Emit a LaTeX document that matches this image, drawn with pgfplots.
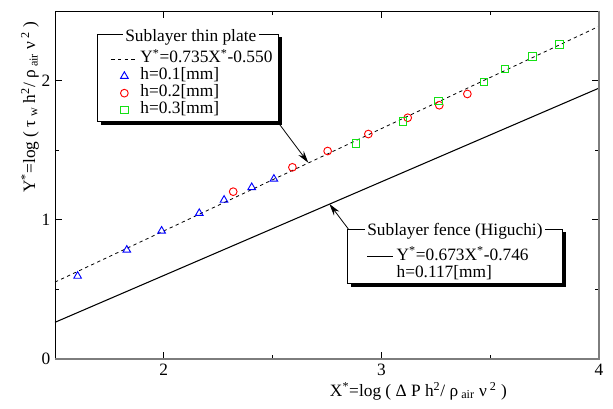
\documentclass[border=0pt]{standalone}
\usepackage{pgfplots}
\pgfplotsset{compat=1.18}
\usepackage{fontspec}
\setmainfont{Liberation Serif}
\usetikzlibrary{arrows.meta}

\definecolor{mkgreen}{RGB}{20,225,20}
\definecolor{axgray}{RGB}{125,125,125}
\newcommand{\fs}{\fontsize{13}{15}\selectfont}

\pgfplotsset{
  base/.style={
    scale only axis, width=408pt, height=261pt,
    xmin=1.5, xmax=4, ymin=0, ymax=2.5,
  },
  lgd/.style={
    legend cell align=left,
    legend style={draw=none, fill=none, inner sep=0pt, row sep=0pt, column sep=2pt,
      font=\fs, anchor=north west,
      nodes={inner sep=0pt, text height=9.25pt, text depth=3.5pt}},
    legend image code/.code={%
      \draw[mark repeat=2, mark phase=2] plot coordinates {(0pt,0pt) (9.75pt,0pt) (19.5pt,0pt)};},
  },
}

\begin{document}
\begin{tikzpicture}
\begin{axis}[base, lgd, name=main, clip=false,
    axis line style={line width=0.6pt},
    xtick={2,3,4}, ytick={0,1,2},
    minor x tick num=1, minor y tick num=1,
    major tick length=5pt, minor tick length=3pt,
    tick style={black, line width=0.6pt},
    /pgf/number format/assume math mode=true,
    tick label style={font=\fs},
    label style={font=\fs},
    xlabel={X\textsuperscript{*}=log ( Δ P h\textsuperscript{2}/ ρ\textsubscript{ air} ν\textsuperscript{ 2} )},
    ylabel={Y\textsuperscript{*}=log ( τ\textsubscript{ w} h\textsuperscript{2}/ ρ\textsubscript{ air} ν\textsuperscript{ 2} )},
    xlabel style={at={(axis description cs:0.668,-0.092)}, anchor=center},
    ylabel style={at={(axis description cs:-0.046,0.724)}, anchor=center},
    legend style={at={(axis cs:1.756,2.217)}},
]
% legend frame: Sublayer thin plate
\fill[black, xshift=2.5pt, yshift=-2.5pt] (axis cs:1.694,2.335) rectangle (axis cs:2.526,1.705);
\draw[fill=white, line width=0.6pt] (axis cs:1.694,2.335) rectangle (axis cs:2.526,1.705);
\node[fill=white, inner xsep=2pt, inner ysep=0pt, anchor=base, font=\fs]
  at (axis cs:2.124,2.279) {Sublayer thin plate};

\addplot[black, line width=0.6pt, dash pattern=on 2.5pt off 2.5pt]
  coordinates {(1.5,0.5525) (4,2.39)};
\addlegendentry{Y\textsuperscript{*}=0.735X\textsuperscript{*}-0.550}

\addplot[only marks, mark=triangle, mark size=3.3pt, blue, mark options={line width=0.7pt}]
  coordinates {
    (1.604,0.596) (1.830,0.783) (1.990,0.920) (2.163,1.047)
    (2.277,1.142) (2.404,1.233) (2.506,1.293)
  };
\addlegendentry{h=0.1[mm]}

\addplot[only marks, mark=o, mark size=2.9pt, red, mark options={line width=0.7pt}]
  coordinates {
    (2.319,1.202) (2.591,1.377) (2.753,1.494) (2.940,1.616)
    (3.121,1.733) (3.266,1.823) (3.395,1.904)
  };
\addlegendentry{h=0.2[mm]}

\addplot[only marks, mark=square, mark size=2.8pt, mkgreen, mark options={line width=0.7pt}]
  coordinates {
    (2.883,1.550) (3.098,1.705) (3.263,1.853) (3.471,1.990)
    (3.568,2.085) (3.695,2.175) (3.819,2.258)
  };
\addlegendentry{h=0.3[mm]}

\draw[-{Stealth[length=9pt,width=5pt]}, line width=0.6pt]
  (axis cs:2.534,1.681) -- (axis cs:2.664,1.410);
\end{axis}

\begin{axis}[base, lgd, hide axis, clip=false,
    legend style={at={(axis cs:2.932,0.800)}},
]
% legend frame: Sublayer fence (Higuchi)
\fill[black, xshift=2.5pt, yshift=-2.5pt] (axis cs:2.843,0.934) rectangle (axis cs:3.833,0.544);
\draw[fill=white, line width=0.6pt] (axis cs:2.843,0.934) rectangle (axis cs:3.833,0.544);
\node[fill=white, inner xsep=2pt, inner ysep=0pt, anchor=base, font=\fs]
  at (axis cs:3.338,0.884) {Sublayer fence (Higuchi)};

\addplot[black, line width=0.8pt] coordinates {(1.5,0.2635) (4,1.946)};
\addlegendentry{Y\textsuperscript{*}=0.673X\textsuperscript{*}-0.746}
\addlegendimage{empty legend}
\addlegendentry{h=0.117[mm]}

\draw[-{Stealth[length=9pt,width=5pt]}, line width=0.6pt]
  (axis cs:2.848,0.934) -- (axis cs:2.761,1.114);
% heavier grey bottom and right frame lines
\draw[axgray, line width=1.6pt] (rel axis cs:0,0) -- (rel axis cs:1,0) -- (rel axis cs:1,1);
\end{axis}

\pgfresetboundingbox
\path[use as bounding box] ([shift={(-41.25pt,-37.5pt)}]main.south west)
  rectangle ([shift={(10.5pt,8.25pt)}]main.north east);
\end{tikzpicture}
\end{document}
